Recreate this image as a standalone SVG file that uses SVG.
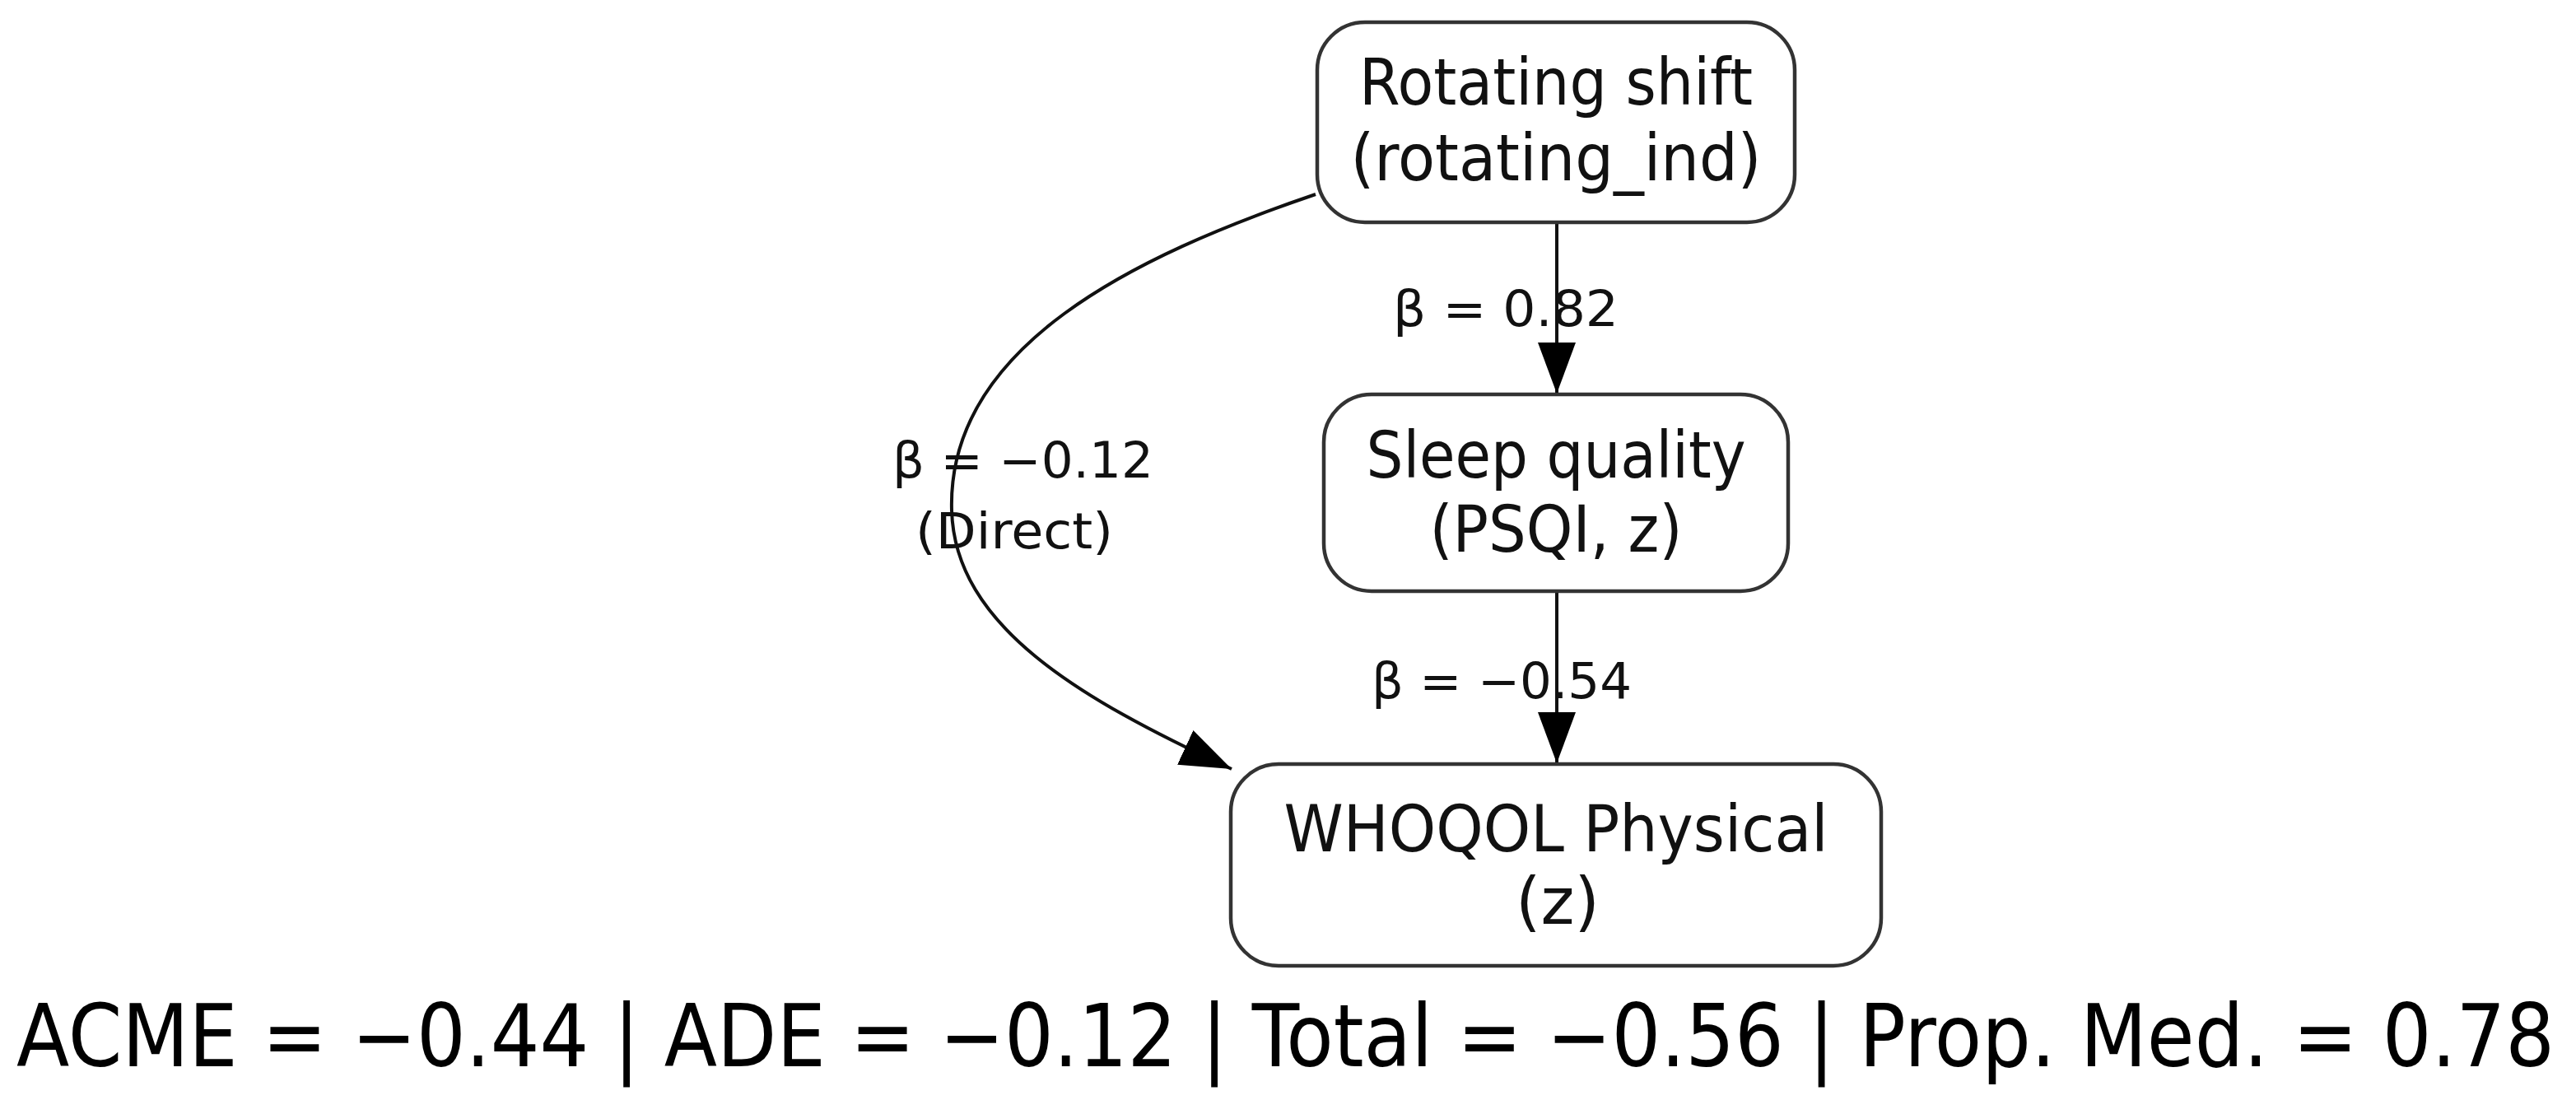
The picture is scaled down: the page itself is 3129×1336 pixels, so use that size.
<svg xmlns="http://www.w3.org/2000/svg" width="3129" height="1336" viewBox="0 0 3129 1336">
<defs>
<style>
.node rect{fill:#fff;stroke:#333;stroke-width:4.5}
.nt{font-family:"DejaVu Sans",Verdana,sans-serif;font-size:78px;fill:#111;text-anchor:middle}
.el{font-family:"DejaVu Sans",Verdana,sans-serif;font-size:60px;fill:#111}
.edge{fill:none;stroke:#111;stroke-width:4}
.foot{font-family:"DejaVu Sans",Verdana,sans-serif;font-size:93px;fill:#000}
</style>
<marker id="ah" markerUnits="userSpaceOnUse" markerWidth="64" markerHeight="50" refX="62" refY="24" orient="auto">
<path d="M0,1 L62,24 L0,47 Z" fill="#000"/>
</marker>
</defs>
<rect width="3129" height="1336" fill="#fff"/>
<g id="edges">
<path class="edge" d="M1891,269 L1891,478" marker-end="url(#ah)"/>
<path class="edge" d="M1891,718 L1891,927" marker-end="url(#ah)"/>
<path class="edge" d="M1598,236 C1380,310 1150,420 1156,620 C1160,760 1310,848 1496,934" marker-end="url(#ah)"/>
<text class="el" x="1692" y="396" textLength="274" lengthAdjust="spacingAndGlyphs">β = 0.82</text>
<text class="el" x="1666" y="848" textLength="316" lengthAdjust="spacingAndGlyphs">β = −0.54</text>
<text class="el" x="1084" y="580" textLength="317" lengthAdjust="spacingAndGlyphs">β = −0.12</text>
<text class="el" x="1112" y="666" textLength="240" lengthAdjust="spacingAndGlyphs">(Direct)</text>
</g>
<g id="node-rotating" class="node">
<rect x="1600" y="27" width="580" height="243" rx="58"/>
<text class="nt" x="1890" y="127" textLength="478" lengthAdjust="spacingAndGlyphs">Rotating shift</text>
<text class="nt" x="1890" y="219" textLength="499" lengthAdjust="spacingAndGlyphs">(rotating_ind)</text>
</g>
<g id="node-sleep" class="node">
<rect x="1608" y="479" width="564" height="239" rx="58"/>
<text class="nt" x="1890" y="580" textLength="461" lengthAdjust="spacingAndGlyphs">Sleep quality</text>
<text class="nt" x="1890" y="670" textLength="307" lengthAdjust="spacingAndGlyphs">(PSQI, z)</text>
</g>
<g id="node-whoqol" class="node">
<rect x="1495" y="928" width="790" height="245" rx="58"/>
<text class="nt" x="1890" y="1034" textLength="661" lengthAdjust="spacingAndGlyphs">WHOQOL Physical</text>
<text class="nt" x="1892" y="1122">(z)</text>
</g>
<text class="foot" transform="matrix(1,0,0,1.13,0,0)" x="20" y="1146" textLength="3083" lengthAdjust="spacingAndGlyphs">ACME = −0.44 | ADE = −0.12 | Total = −0.56 | Prop. Med. = 0.78</text>
</svg>
